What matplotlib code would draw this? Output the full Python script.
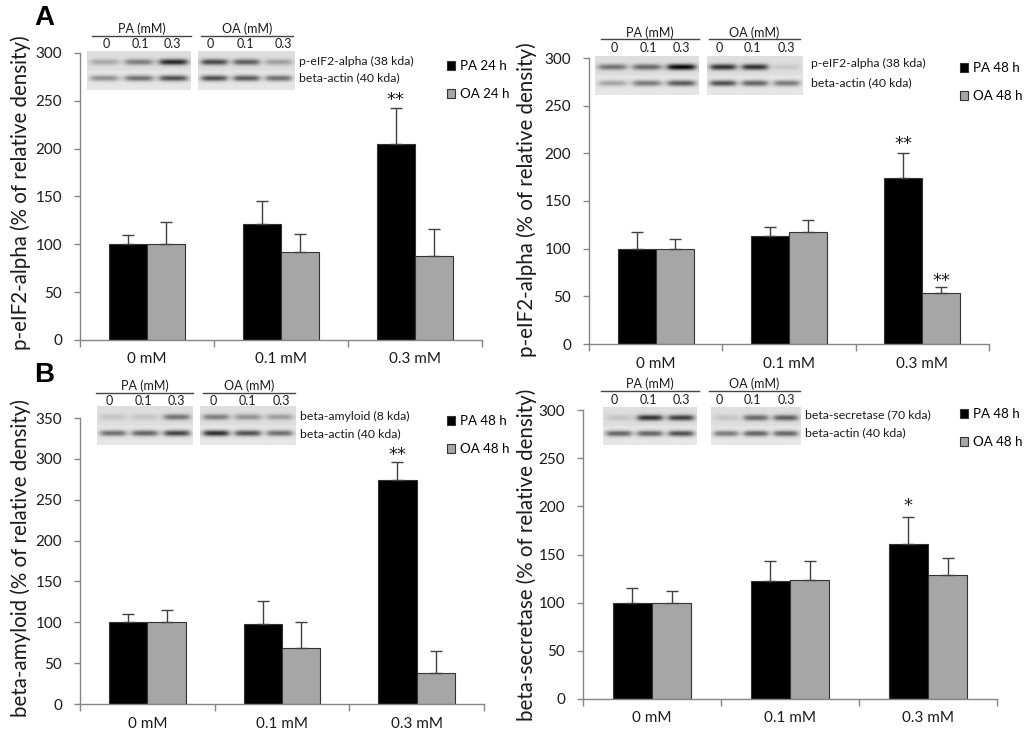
import numpy as np
import matplotlib
matplotlib.use("Agg")
import matplotlib.pyplot as plt
from matplotlib.patches import Patch

plt.rcParams['font.family'] = ['Lato', 'DejaVu Sans']

# ---------------- data ----------------
categories = ["0 mM", "0.1 mM", "0.3 mM"]

# Panel A left (24 h, p-eIF2-alpha)
a1_pa = [100, 121, 205]
a1_pa_err = [10, 24, 38]
a1_oa = [100, 92, 88]
a1_oa_err = [23, 18.5, 28]

# Panel A right (48 h, p-eIF2-alpha)
a2_pa = [100, 113, 174.5]
a2_pa_err = [18, 10, 25.5]
a2_oa = [100, 118, 53]
a2_oa_err = [10, 12, 6.5]

# Panel B left (48 h, beta-amyloid)
b1_pa = [100, 98.5, 274]
b1_pa_err = [10, 28, 22]
b1_oa = [100, 68.5, 38.5]
b1_oa_err = [14.5, 32, 26.5]

# Panel B right (48 h, beta-secretase)
b2_pa = [100, 122, 161]
b2_pa_err = [15, 21.5, 28]
b2_oa = [100, 124, 128.5]
b2_oa_err = [12, 19.5, 17.5]

lane_labels = ["0", "0.1", "0.3"]

# blot band darkness (0..1) per lane: [target band, beta-actin band]
a1_blot_pa = [[0.25, 0.45, 0.85], [0.40, 0.55, 0.70]]
a1_blot_oa = [[0.70, 0.60, 0.30], [0.70, 0.65, 0.55]]
a2_blot_pa = [[0.50, 0.55, 1.00], [0.30, 0.50, 0.65]]
a2_blot_oa = [[0.80, 0.80, 0.10], [0.70, 0.60, 0.50]]
b1_blot_pa = [[0.12, 0.12, 0.50], [0.55, 0.60, 0.75]]
b1_blot_oa = [[0.45, 0.35, 0.30], [0.85, 0.70, 0.55]]
b2_blot_pa = [[0.12, 0.80, 0.75], [0.60, 0.60, 0.70]]
b2_blot_oa = [[0.12, 0.55, 0.60], [0.50, 0.60, 0.60]]

W, H = 1024, 736
fig = plt.figure(figsize=(W / 100, H / 100), dpi=100)

BLACK = "#000000"
GRAY = "#a6a6a6"
SPINE = "#868686"
TXT = "#1a1a1a"


def fx(x):
    return x / W


def fy(y):
    return 1 - y / H


def make_axes(x0, x1, ytop, ybot):
    return fig.add_axes([fx(x0), fy(ybot), (x1 - x0) / W, (ybot - ytop) / H])


def draw_panel(ax, pa, pa_err, oa, oa_err, ymax, ylab, ylab_x, ylab_y, legend_xy, labels,
               stars):
    x = np.arange(len(categories))
    w = 1 / 3.5
    ax.bar(x - w / 2, pa, w, color=BLACK, edgecolor="#333333", linewidth=0.8, zorder=2,
           label=labels[0])
    ax.bar(x + w / 2, oa, w, color=GRAY, edgecolor="#333333", linewidth=0.8, zorder=2,
           label=labels[1])
    z = np.zeros(len(categories))
    ax.errorbar(x - w / 2, pa, yerr=[z, pa_err], fmt="none", ecolor="#404040",
                elinewidth=1, capsize=4, capthick=1, zorder=3)
    ax.errorbar(x + w / 2, oa, yerr=[z, oa_err], fmt="none", ecolor="#404040",
                elinewidth=1, capsize=4, capthick=1, zorder=3)
    ax.set_xlim(-0.5, len(categories) - 0.5)
    ax.set_ylim(0, ymax)
    ax.set_yticks(np.arange(0, ymax + 1, 50))
    ax.set_xticks(np.arange(-0.5, len(categories), 1.0))
    ax.set_xticklabels([])
    ax.set_xticks(x, minor=True)
    ax.set_xticklabels(categories, minor=True)
    ax.tick_params(axis="x", which="major", length=5, width=1, color=SPINE, direction="out")
    ax.tick_params(axis="x", which="minor", length=0, pad=9, labelsize=11, labelcolor=TXT)
    ax.tick_params(axis="y", length=4, width=1, color=SPINE, direction="out", pad=9,
                   labelsize=11, labelcolor=TXT)
    for s in ("top", "right"):
        ax.spines[s].set_visible(False)
    for s in ("left", "bottom"):
        ax.spines[s].set_color(SPINE)
        ax.spines[s].set_linewidth(1)
    fig.text(fx(ylab_x), fy(ylab_y), ylab, rotation=90, ha="center", va="center",
             fontsize=14.8, color=TXT)
    handles = [Patch(facecolor=BLACK, edgecolor="#333333", linewidth=0.8),
               Patch(facecolor=GRAY, edgecolor="#333333", linewidth=0.8)]
    fig.legend(handles, labels, loc="upper left",
               bbox_to_anchor=(fx(legend_xy[0]), fy(legend_xy[1])), frameon=False,
               borderpad=0, borderaxespad=0, handlelength=0.62, handleheight=0.62,
               handletextpad=0.35, labelspacing=1.2, fontsize=9.6)
    for (xi, yi, s) in stars:
        ax.text(xi, yi, s, ha="center", va="center", fontsize=13, color=TXT,
                family="DejaVu Sans")


def blot_block(x0, x1, y0, y1, dark):
    ax = fig.add_axes([fx(x0), fy(y1), (x1 - x0) / W, (y1 - y0) / H])
    nh, nw = 80, 200
    yy = np.linspace(0, 1, nh)[:, None]
    xx = np.linspace(0, 1, nw)[None, :]
    img = np.full((nh, nw), 0.90) - 0.03 * (yy < 0.5)
    band_y = [0.28, 0.70]
    for bi, row in enumerate(dark):
        vprof = np.exp(-0.5 * ((yy - band_y[bi]) / 0.055) ** 2)
        for li, d in enumerate(row):
            cx = (li + 0.5) / 3
            hprof = 1 / (1 + np.exp((np.abs(xx - cx) - 0.13) / 0.02))
            img = img - 0.85 * d * vprof * hprof
    ax.imshow(np.clip(img, 0, 1), cmap="gray", vmin=0, vmax=1, aspect="auto",
              interpolation="bilinear")
    ax.set_axis_off()


def blot_header(xl0, xl1, xr0, xr1, yhead, yline, ynum, lanes_l, lanes_r):
    for (a, b, t, lanes) in ((xl0, xl1, "PA (mM)", lanes_l), (xr0, xr1, "OA (mM)", lanes_r)):
        fig.text(fx((a + b) / 2), fy(yhead), t, ha="center", va="center", fontsize=9,
                 color=TXT)
        fig.add_artist(plt.Line2D([fx(a), fx(b)], [fy(yline), fy(yline)], color="#444444",
                                  linewidth=1.0, transform=fig.transFigure))
        for lx, lab in zip(lanes, lane_labels):
            fig.text(fx(lx), fy(ynum), lab, ha="center", va="center", fontsize=9,
                     color=TXT)


def blot_label(x, y, t):
    fig.text(fx(x), fy(y), t, ha="left", va="center", fontsize=8.8, color=TXT)


# ---------------- Panel A left ----------------
ax1 = make_axes(80, 482, 53, 340)
draw_panel(ax1, a1_pa, a1_pa_err, a1_oa, a1_oa_err, 300,
           "p-eIF2-alpha (% of relative density)", 21, 193, (447, 60),
           ["PA 24 h", "OA 24 h"], [(2 - 1 / 7, 251, "**")])
blot_block(87, 191, 51, 90, a1_blot_pa)
blot_block(198, 295, 51, 90, a1_blot_oa)
blot_header(92, 191, 201, 293, 29, 36, 44, [106, 140, 172], [210, 245, 283])
blot_label(299, 61, "p-eIF2-alpha (38 kda)")
blot_label(299, 78, "beta-actin (40 kda)")

# ---------------- Panel A right ----------------
ax2 = make_axes(589, 989, 58, 344)
draw_panel(ax2, a2_pa, a2_pa_err, a2_oa, a2_oa_err, 300,
           "p-eIF2-alpha (% of relative density)", 527, 200, (960, 62),
           ["PA 48 h", "OA 48 h"],
           [(2 - 1 / 7, 210, "**"), (2 + 1 / 7, 66, "**")])
blot_block(595, 699, 56, 95, a2_blot_pa)
blot_block(707, 803, 56, 95, a2_blot_oa)
blot_header(601, 699, 709, 800, 33, 39, 48, [614, 648, 681], [719, 752, 786])
blot_label(811, 63, "p-eIF2-alpha (38 kda)")
blot_label(811, 83, "beta-actin (40 kda)")

# ---------------- Panel B left ----------------
ax3 = make_axes(80, 484, 418, 704)
draw_panel(ax3, b1_pa, b1_pa_err, b1_oa, b1_oa_err, 350,
           "beta-amyloid (% of relative density)", 21, 558, (447, 415),
           ["PA 48 h", "OA 48 h"], [(2 - 1 / 7, 305, "**")])
blot_block(97, 193, 406, 445, b1_blot_pa)
blot_block(200, 296, 406, 445, b1_blot_oa)
blot_header(96, 193, 203, 295, 386, 393, 401, [109, 143, 176], [213, 247, 281])
blot_label(300, 416, "beta-amyloid (8 kda)")
blot_label(300, 434, "beta-actin (40 kda)")

# ---------------- Panel B right ----------------
ax4 = make_axes(583, 997, 410, 699)
draw_panel(ax4, b2_pa, b2_pa_err, b2_oa, b2_oa_err, 300,
           "beta-secretase (% of relative density)", 527, 555, (960, 408),
           ["PA 48 h", "OA 48 h"], [(2 - 1 / 7, 200, "*")])
blot_block(603, 697, 407, 445, b2_blot_pa)
blot_block(711, 801, 407, 445, b2_blot_oa)
blot_header(601, 699, 709, 800, 384, 391, 400, [614, 648, 681], [719, 752, 786])
blot_label(805, 415, "beta-secretase (70 kda)")
blot_label(805, 433, "beta-actin (40 kda)")

# panel letters
fig.text(fx(34), fy(18), "A", ha="left", va="center", fontsize=20, fontweight="bold",
         family="Liberation Sans", color="black")
fig.text(fx(34), fy(375), "B", ha="left", va="center", fontsize=20, fontweight="bold",
         family="Liberation Sans", color="black")

fig.savefig("out.png", dpi=100)
